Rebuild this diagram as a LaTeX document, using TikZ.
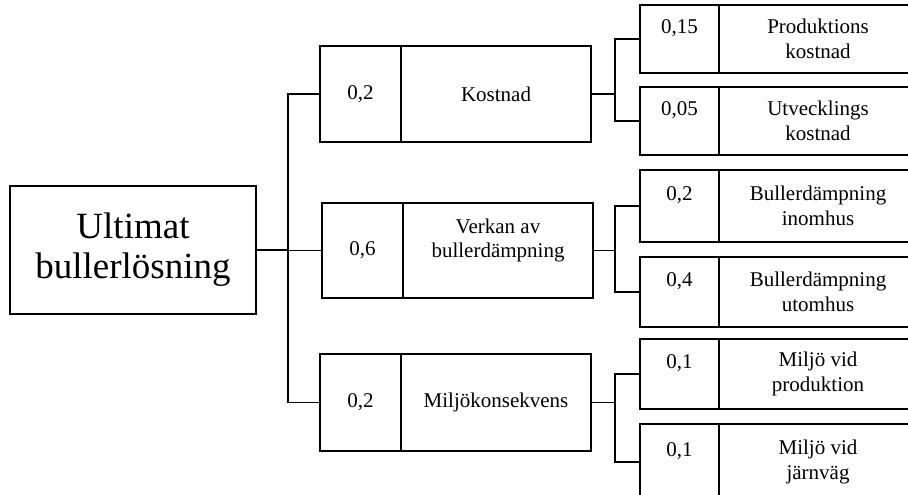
\documentclass[tikz,border=0pt]{standalone}
\usepackage{fontspec}
\setmainfont{Liberation Serif}
\usepackage{tikz}
\usetikzlibrary{positioning}

\begin{document}
\begin{tikzpicture}[
  x=1pt, y=-1pt,
  font=\fontsize{21}{24.5}\selectfont,
  cell/.style={draw, line width=1.7pt, outer sep=0pt, inner sep=0pt, align=center},
  wmid/.style={cell, minimum width=81pt},
  lmid/.style={cell, minimum width=190pt},
  wsub/.style={cell, minimum width=79pt},
  lsub/.style={cell, minimum width=198pt},
  link/.style={line width=1.7pt}
]
\useasboundingbox (0,0) rectangle (908,495);
\clip (0,0) rectangle (908,495);
% root
\node[cell, minimum width=246pt, minimum height=128pt, font=\fontsize{37}{40}\selectfont] (root) at (133,250) {Ultimat\\bullerlösning};
% level 1
\node[wmid, minimum height=96pt] (kw) at (360.5,94) {0,2};
\node[lmid, minimum height=96pt] (kl) [right=0pt of kw] {Kostnad};
\node[wmid, minimum height=95pt] (vw) at (362.5,250.5) {0,6};
\node[lmid, minimum height=95pt] (vl) [right=0pt of vw] {Verkan av\\bullerdämpning\\\phantom{0}};
\node[wmid, minimum height=97pt] (mw) at (360.5,402.5) {0,2};
\node[lmid, minimum height=97pt] (ml) [right=0pt of mw] {Miljökonsekvens};
% level 2 (cut off at the right edge)
\node[wsub, minimum height=68pt] (p1w) at (679.5,39) {0,15\\\phantom{0}};
\node[lsub, minimum height=68pt] (p1l) [right=0pt of p1w] {Produktions\\kostnad};
\node[wsub, minimum height=68pt] (p2w) at (679.5,121) {0,05\\\phantom{0}};
\node[lsub, minimum height=68pt] (p2l) [right=0pt of p2w] {Utvecklings\\kostnad};
\node[wsub, minimum height=72pt] (p3w) at (679.5,206) {0,2\\\phantom{0}};
\node[lsub, minimum height=72pt] (p3l) [right=0pt of p3w] {Bullerdämpning\\inomhus};
\node[wsub, minimum height=70pt] (p4w) at (679.5,292) {0,4\\\phantom{0}};
\node[lsub, minimum height=70pt] (p4l) [right=0pt of p4w] {Bullerdämpning\\utomhus};
\node[wsub, minimum height=70pt] (p5w) at (679.5,374) {0,1\\\phantom{0}};
\node[lsub, minimum height=70pt] (p5l) [right=0pt of p5w] {Miljö vid\\produktion};
\node[wsub, minimum height=76pt] (p6w) at (679.5,462) {0,1\\\phantom{0}};
\node[lsub, minimum height=76pt] (p6l) [right=0pt of p6w] {Miljö vid\\järnväg};
% connectors
\coordinate (rb) at (288,250);
\coordinate (kb) at (615,94);
\coordinate (vb) at (615,250.5);
\coordinate (mb) at (615,402.5);
\draw[link] (root.east) -- (rb);
\draw[link] (rb) |- (kw.west);
\draw[link] (rb) |- (vw.west);
\draw[link] (rb) |- (mw.west);
\draw[link] (kl.east) -- (kb);
\draw[link] (kb) |- (p1w.west);
\draw[link] (kb) |- (p2w.west);
\draw[link] (vl.east) -- (vb);
\draw[link] (vb) |- (p3w.west);
\draw[link] (vb) |- (p4w.west);
\draw[link] (ml.east) -- (mb);
\draw[link] (mb) |- (p5w.west);
\draw[link] (mb) |- (p6w.west);
\end{tikzpicture}
\end{document}
